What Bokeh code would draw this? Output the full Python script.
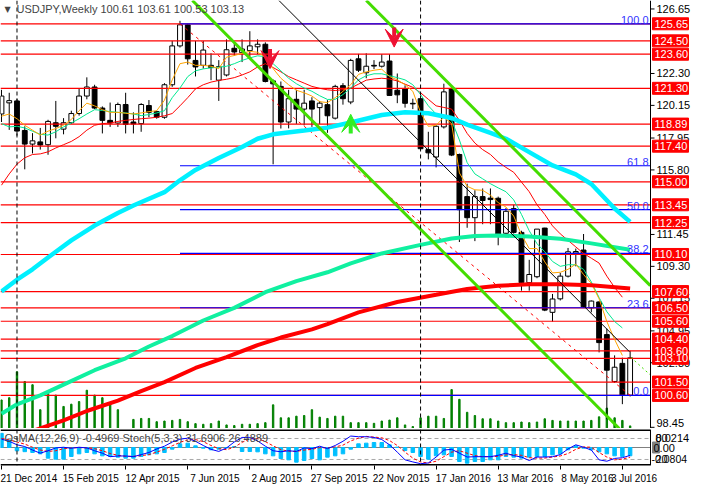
from bokeh.plotting import figure
from bokeh.models import Range1d, FixedTicker, ColumnDataSource, Label, Span, Arrow, VeeHead
from bokeh.core.properties import value
from bokeh.layouts import column
from bokeh.embed import file_html
from bokeh.resources import INLINE

FONT = "Liberation Sans"

# weekly bars, bar 0 = week of 21 Dec 2014
opens = [119.57, 120.32, 120.45, 118.46, 117.54, 117.69, 117.50, 118.98, 118.55, 118.98,
         119.60, 120.78, 121.39, 119.97, 119.14, 118.96, 120.21, 119.03, 118.92, 120.14,
         119.73, 119.35, 121.54, 124.16, 125.58, 123.18, 122.85, 122.85, 121.85, 122.20,
         124.00, 123.70, 123.84, 124.10, 124.27, 121.80, 121.43, 119.03, 120.56, 119.90,
         120.45, 120.00, 120.20, 119.29, 121.48, 120.38, 123.29, 122.35, 122.85, 122.79,
         123.14, 121.17, 121.26, 120.29, 120.60, 117.17, 116.67, 118.70, 121.26, 116.84,
         114.00, 112.58, 114.00, 113.90, 113.89, 111.53, 113.19, 111.59, 108.20, 108.60,
         111.88, 106.20, 107.11, 108.64, 110.20, 110.40, 106.50, 106.90, 104.70, 101.54,
         102.76, 100.61]
highs = [121.20, 121.00, 120.60, 118.74, 118.28, 118.63, 119.18, 120.45, 119.29, 119.79,
         121.26, 122.04, 121.54, 120.08, 120.34, 120.34, 121.00, 119.68, 120.30, 120.51,
         119.79, 121.65, 124.50, 125.85, 125.65, 124.49, 124.49, 123.66, 123.20, 124.60,
         124.40, 124.60, 125.15, 124.60, 124.40, 121.90, 121.76, 121.20, 121.20, 121.20,
         120.70, 120.45, 120.50, 121.54, 121.65, 123.29, 123.62, 123.66, 123.20, 123.60,
         123.60, 122.30, 121.50, 120.60, 120.80, 118.37, 118.81, 121.61, 121.43, 116.90,
         114.87, 114.43, 114.55, 114.55, 114.00, 113.23, 113.45, 111.70, 109.74, 111.81,
         111.90, 107.44, 108.86, 110.54, 110.50, 111.48, 107.00, 106.95, 105.10, 103.30,
         103.14, 103.61]
lows = [119.03, 118.50, 118.11, 115.84, 116.91, 117.17, 116.82, 117.93, 118.20, 118.90,
        119.46, 120.56, 119.90, 118.26, 118.70, 118.70, 118.26, 118.26, 118.37, 119.35,
        119.25, 119.25, 121.40, 124.05, 122.90, 122.10, 122.63, 121.85, 120.45, 122.10,
        123.50, 123.07, 123.40, 123.60, 121.70, 116.18, 118.59, 118.60, 118.90, 118.80,
        118.70, 118.90, 118.30, 119.20, 120.20, 120.23, 122.40, 121.98, 122.60, 122.70,
        120.80, 120.30, 120.00, 119.90, 117.20, 116.51, 115.97, 118.59, 116.73, 110.94,
        111.90, 111.00, 112.14, 112.14, 110.72, 111.26, 111.50, 107.66, 107.66, 108.50,
        106.28, 105.58, 107.00, 108.55, 109.30, 106.50, 106.20, 103.50, 99.00, 101.45,
        100.01, 100.53]
closes = [120.78, 120.47, 118.42, 117.54, 117.76, 117.48, 119.07, 118.74, 118.98, 119.60,
          120.78, 121.39, 119.97, 119.14, 118.96, 120.21, 118.87, 118.90, 120.21, 119.68,
          119.35, 121.54, 124.16, 125.58, 123.29, 122.74, 123.88, 122.70, 122.76, 123.90,
          123.75, 123.95, 124.16, 124.27, 121.76, 121.60, 119.03, 120.60, 119.90, 120.30,
          119.90, 120.30, 119.45, 121.43, 120.60, 123.18, 122.52, 122.79, 122.80, 123.07,
          120.82, 120.86, 120.29, 120.25, 117.23, 116.95, 118.74, 121.06, 116.80, 113.12,
          112.58, 114.00, 113.74, 113.80, 111.48, 113.01, 111.59, 108.20, 108.75, 111.81,
          106.35, 107.10, 108.64, 110.28, 110.30, 106.57, 106.96, 104.16, 102.30, 102.50,
          100.60, 103.13]
volumes = [88, 95, 175, 145, 135, 58, 108, 103, 68, 75,
           83, 118, 103, 95, 80, 58, 0, 28, 31, 31,
           21, 23, 25, 28, 21, 15, 13, 15, 23, 11,
           9, 13, 13, 15, 18, 73, 33, 33, 38, 40,
           58, 35, 31, 38, 38, 18, 18, 18, 16, 23,
           26, 33, 11, 6, 33, 38, 38, 31, 120, 90,
           50, 40, 30, 30, 23, 18, 18, 20, 18, 20,
           30, 25, 23, 23, 23, 23, 25, 36, 63, 33,
           25, 8]

# moving averages
ma_fast = [119.42, 119.57, 119.25, 118.81, 118.48, 118.15, 118.41, 118.59, 118.81, 119.20,
           119.79, 120.30, 120.12, 119.86, 119.68, 119.68, 119.62, 119.57, 119.64, 119.73,
           119.79, 120.50, 121.87, 122.96, 123.07, 122.85, 122.85, 122.79, 122.63, 123.40,
           123.51, 123.66, 123.79, 123.73, 123.40, 122.63, 121.98, 121.54, 121.17, 121.00,
           120.78, 120.40, 120.34, 120.67, 121.10, 121.54, 122.24, 122.41, 122.52, 122.59,
           122.09, 121.87, 121.54, 121.10, 119.68, 118.74, 118.81, 119.35, 118.92, 115.60,
           114.70, 114.46, 114.43, 114.10, 113.60, 113.30, 112.69, 111.43, 110.50, 110.50,
           109.60, 108.86, 108.90, 109.10, 109.45, 108.75, 108.15, 107.11, 105.58, 104.38,
           103.29]
ma_mid = [118.92, 118.70, 118.74, 118.63, 118.41, 118.20, 118.15, 118.37, 118.70, 118.96,
          119.25, 119.57, 119.86, 119.81, 119.73, 119.68, 119.64, 119.57, 119.46, 119.53,
          119.64, 119.79, 120.67, 121.32, 122.09, 122.48, 122.61, 122.68, 122.72, 122.79,
          122.96, 123.18, 123.35, 123.49, 123.44, 122.96, 122.48, 121.98, 121.61, 121.32,
          121.10, 120.80, 120.55, 120.56, 120.88, 121.32, 121.87, 122.15, 122.28, 122.28,
          122.15, 122.02, 121.87, 121.54, 120.88, 120.12, 119.57, 119.35, 119.14, 117.82,
          116.29, 115.53, 115.20, 114.87, 114.59, 114.33, 113.78, 112.80, 111.70, 110.83,
          110.28, 109.63, 109.30, 109.41, 109.40, 109.10, 108.25, 107.20, 106.24, 105.58,
          105.15]
ma_slow = [114.77, 115.53, 116.19, 116.62, 116.84, 116.88, 117.02, 117.28, 117.50, 117.72,
           118.04, 118.48, 118.81, 118.92, 118.96, 119.07, 119.14, 119.20, 119.25, 119.29,
           119.35, 119.45, 119.60, 120.12, 120.67, 121.26, 121.54, 121.72, 121.83, 121.91,
           122.02, 122.20, 122.41, 122.74, 122.96, 122.70, 122.41, 122.09, 121.87, 121.65,
           121.43, 121.30, 121.20, 121.15, 121.21, 121.32, 121.58, 121.85, 121.93, 121.98,
           121.93, 121.80, 121.58, 121.37, 121.00, 120.56, 120.12, 120.01, 119.90, 119.14,
           118.26, 117.61, 117.17, 116.84, 116.34, 115.97, 115.64, 114.98, 114.33, 113.45,
           112.80, 112.03, 111.49, 111.05, 110.61, 110.17, 109.85, 109.52, 108.64, 107.88,
           107.22]
ma50_i = [0, 2, 4, 6, 9, 12, 15, 17, 21, 23, 25, 28, 31, 33, 35, 39, 42, 45, 49, 52,
          55, 58, 60, 63, 65, 68, 71, 74, 76, 79, 81]
ma50 = [107.6, 108.4, 109.1, 109.9, 111.05, 112.05, 112.9, 113.4, 114.3, 115.1, 115.8,
        116.6, 117.35, 117.9, 118.2, 118.45, 118.65, 119.0, 119.5, 119.68, 119.62, 119.3,
        118.85, 118.3, 117.9, 117.0, 116.1, 115.5, 114.85, 113.2, 112.3]
ma100_i = [0, 2, 5, 8, 12, 16, 19, 22, 26, 30, 34, 38, 42, 45, 49, 54, 58, 61, 64, 68,
           72, 76, 81]
ma100 = [99.36, 100.0, 100.6, 101.33, 102.3, 103.1, 103.9, 104.6, 105.65, 106.5, 107.56,
         108.3, 108.9, 109.5, 110.17, 110.75, 111.18, 111.34, 111.38, 111.31, 111.16,
         110.85, 110.42]
ma200_i = [4, 8, 11, 15, 18, 21, 25, 29, 33, 36, 40, 42, 46, 51, 56, 60, 64, 68, 72, 76, 81]
ma200 = [98.2, 98.92, 99.55, 100.25, 100.89, 101.5, 102.45, 103.18, 103.99, 104.5, 105.05,
         105.41, 106.2, 106.9, 107.38, 107.77, 107.99, 108.1, 108.1, 108.03, 107.81]

# OsMA and stochastic
osma = [0.85, 0.45, -0.2, -0.25, -0.30, -0.38, -0.64, -0.70, -0.70, -0.54,
        -0.38, -0.30, -0.38, -0.50, -0.54, -0.58, -0.64, -0.64, -0.54, -0.44,
        -0.38, -0.30, -0.10, 0.22, 0.26, 0.10, -0.04, -0.14, -0.10, -0.02,
        0.06, -0.24, -0.24, -0.26, -0.38, -0.50, -0.66, -0.74, -0.88, -0.78,
        -0.66, -0.74, -0.58, -0.50, -0.38, -0.10, 0.22, 0.26, 0.30, 0.30,
        0.16, 0.02, -0.18, -0.30, -0.54, -0.70, -0.50, -0.44, -0.54, -0.84,
        -0.94, -0.84, -0.84, -0.74, -0.74, -0.54, -0.58, -0.64, -0.58, -0.54,
        -0.54, -0.44, -0.38, -0.14, 0.10, -0.04, -0.14, -0.26, -0.38, -0.50,
        -0.54, -0.4969]
stoch_main = [78, 72, 62, 57, 47, 38, 45, 53, 55, 52,
              55, 53, 45, 38, 28, 30, 30, 28, 34, 40,
              50, 58, 70, 78, 81, 72, 60, 49, 43, 53,
              70, 83, 83, 73, 58, 45, 42, 45, 43, 53,
              51, 58, 51, 60, 72, 87, 85, 85, 83, 77,
              62, 41, 19, 13, 8, 10, 27, 47, 49, 38,
              27, 28, 28, 28, 32, 38, 31, 27, 17, 27,
              27, 28, 34, 50, 62, 55, 47, 19, 15, 23,
              25, 31.6906]
stoch_sig = [80, 76, 70, 64, 55, 47, 43, 45, 51, 53,
             54, 53, 51, 45, 37, 32, 29, 29, 31, 34,
             41, 49, 59, 69, 76, 77, 71, 60, 51, 48,
             55, 69, 79, 80, 71, 59, 48, 44, 43, 47,
             49, 54, 53, 56, 61, 73, 81, 86, 84, 82,
             74, 60, 41, 24, 13, 10, 15, 28, 41, 45,
             38, 31, 28, 28, 29, 33, 34, 32, 25, 24,
             24, 27, 30, 37, 49, 56, 55, 40, 27, 19,
             21, 26.4889]
osma_labels = ["0.0214", "0.00", "-0.0804"]
stoch_levels = [80, 20]

# horizontal levels, fibonacci, drawn objects
levels = [125.65, 124.50, 123.60, 121.30, 118.89, 117.40, 115.00, 113.45, 112.25, 110.10,
          107.60, 106.50, 105.60, 104.40, 103.60, 103.10, 101.50, 100.60]
price_ticks = [126.65, 122.30, 120.15, 117.95, 115.80, 111.45, 109.30, 107.15, 104.95,
               102.80]
bottom_tick = 98.45
fib_pct = [100.0, 61.8, 50.0, 38.2, 23.6, 0.0]
fib_price = [125.65, 116.08, 113.13, 110.17, 106.51, 100.60]
fib_start = 23
fib_diag_i = [23, 81]
fib_diag_p = [125.65, 100.60]
chan_a_i = [24.6, 79.6]
chan_a_p = [127.22, 98.37]
chan_b_i = [47.0, 83.6]
chan_b_p = [127.22, 108.0]
trend_i = [35.75, 80.9]
trend_p = [127.22, 103.55]
ext_i = [81.1, 83.6]
ext_p = [103.16, 101.98]
arrow_i = [34.6, 50.6, 45.0]
arrow_from = [123.95, 125.40, 118.25]
arrow_to = [122.63, 124.08, 119.55]
arrow_col = ["#ee1133", "#ee1133", "#33ee22"]
separators = [2, 54]
tick_idx = [0, 8, 16, 24, 32, 40, 48, 56, 64, 72, 80]
tick_labels = ["21 Dec 2014", "15 Feb 2015", "12 Apr 2015", "7 Jun 2015", "2 Aug 2015",
               "27 Sep 2015", "22 Nov 2015", "17 Jan 2016", "13 Mar 2016", "8 May 2016",
               "3 Jul 2016"]

# geometry: chart area 650px wide, price scale strip 41px to its right
x_start, x_end = -0.125, 83.625
PPU = 650 / (x_end - x_start)          # pixels per bar


def px(n):
    return n / PPU


x_full = x_end + px(41)
y_lo, y_hi = 98.37, 127.22
bars = list(range(len(opens)))
TXT = dict(text_font=value(FONT), text_font_size=value("11px"))

main = figure(frame_width=691, frame_height=428, x_range=Range1d(x_start, x_full),
              y_range=Range1d(y_lo, y_hi), output_backend="svg", toolbar_location=None,
              x_axis_location=None, y_axis_location=None,
              min_border_left=0, min_border_top=0, min_border_bottom=0, min_border_right=0)
main.outline_line_color = None
main.grid.visible = False
main.extra_y_ranges = {"vol": Range1d(0, 1320)}

# volumes
main.vbar(x=bars, top=volumes, bottom=0, width=0.18, color="#008000", y_range_name="vol")

# candles
src = ColumnDataSource(dict(
    i=bars, h=highs, l=lows,
    top=[max(o, c) for o, c in zip(opens, closes)],
    bottom=[min(o, c) for o, c in zip(opens, closes)],
    fill=["white" if c >= o else "black" for o, c in zip(opens, closes)],
))
main.segment("i", "h", "i", "l", source=src, color="black", line_width=1)
main.vbar(x="i", top="top", bottom="bottom", width=0.62, fill_color="fill",
          line_color="black", line_width=1, source=src)

# red horizontal levels and fibonacci lines
main.segment(x0=[x_start] * len(levels), y0=levels, x1=[x_end] * len(levels), y1=levels,
             color="#ff0000", line_width=1.2)
main.segment(x0=[fib_start] * len(fib_price), y0=fib_price, x1=[x_end] * len(fib_price),
             y1=fib_price, color="#0000ff", line_width=1.2)
main.line(fib_diag_i, fib_diag_p, color="#ff0000", line_width=1, line_dash="3 4")

# moving averages
thin_i = bars[:len(ma_fast)]
main.line(thin_i, ma_slow, color="#ff0000", line_width=1)
main.line(thin_i, ma_mid, color="#00e890", line_width=1)
main.line(thin_i, ma_fast, color="#ffa500", line_width=1)
main.line(ma50_i, ma50, color="#00f0ff", line_width=4.5)
main.line(ma100_i, ma100, color="#10f0a0", line_width=4)
main.line(ma200_i, ma200, color="#ff0000", line_width=4)

# channel and trend lines
main.line(chan_a_i, chan_a_p, color="#44dd00", line_width=3)
main.line(chan_b_i, chan_b_p, color="#44dd00", line_width=3)
main.line(trend_i, trend_p, color="black", line_width=1)
main.line(ext_i, ext_p, color="#44dd00", line_width=1, line_dash="2 3")

for xi, y0, y1, col in zip(arrow_i, arrow_from, arrow_to, arrow_col):
    main.add_layout(Arrow(end=VeeHead(size=18, fill_color=col, line_color=col),
                          x_start=xi, y_start=y0, x_end=xi, y_end=y1,
                          line_color=col, line_width=4))

for s in separators:
    main.add_layout(Span(location=s, dimension="height", line_color="black",
                         line_dash="4 3", line_width=1))

for pct, fp in zip(fib_pct, fib_price):
    main.add_layout(Label(x=x_end, y=fp, x_offset=-2, text=f"{pct:.1f}",
                          text_color="#3333ff", text_font=FONT, text_font_size="11px",
                          text_align="right", text_baseline="bottom"))

# price scale on the right
main.add_layout(Span(location=x_end, dimension="height", line_color="black", line_width=1))
all_ticks = price_ticks + [bottom_tick]
main.segment(x0=[x_end] * len(all_ticks), y0=all_ticks, x1=[x_end + px(4)] * len(all_ticks),
             y1=all_ticks, color="black", line_width=1)
main.text(x=[x_end] * len(price_ticks), y=price_ticks, text=[f"{v:.2f}" for v in price_ticks],
          x_offset=6, text_baseline="middle", text_color="black", **TXT)
main.text(x=[x_end], y=[bottom_tick], text=[f"{bottom_tick:.2f}"], x_offset=6,
          text_baseline="bottom", text_color="black", **TXT)
main.rect(x=[x_end + px(20)] * len(levels), y=levels, width=36, height=12,
          width_units="screen", height_units="screen", color="#ff0000")
main.text(x=[x_end] * len(levels), y=levels, text=[f"{v:.2f}" for v in levels],
          x_offset=4, text_baseline="middle", text_color="white", **TXT)

main.add_layout(Label(x=x_start, y=y_hi, x_offset=4, y_offset=-4, text="\u25bc",
                      text_font="DejaVu Sans", text_font_size="8px", text_baseline="top"))
header = "USDJPY,Weekly  %.2f %.2f %.2f %.2f" % (opens[-1], highs[-1], lows[-1], closes[-1])
main.add_layout(Label(x=x_start, y=y_hi, x_offset=16, y_offset=-2, text=header,
                      text_font=FONT, text_font_size="11px", text_baseline="top"))

# indicator panel
s_lo, s_hi = 2.8, 105.7
ind = figure(frame_width=691, frame_height=36, x_range=main.x_range,
             y_range=Range1d(s_lo, s_hi), output_backend="svg", toolbar_location=None,
             y_axis_location=None, min_border_left=0, min_border_top=1,
             min_border_bottom=0, min_border_right=0)
ind.outline_line_color = None
ind.grid.visible = False
ind.extra_y_ranges = {"osma": Range1d(-1.08, 1.08)}

ind.segment(x0=[x_start] * 2, y0=stoch_levels, x1=[x_end] * 2, y1=stoch_levels,
            color="#a8a8a8", line_dash="4 3", line_width=1)
ind.segment(x0=[x_start], y0=[0], x1=[x_end], y1=[0], color="#808080", line_width=1.2,
            y_range_name="osma")
ind.vbar(x=bars, top=osma, bottom=0, width=0.45, color="#00bfff", y_range_name="osma")
ind.line(bars, stoch_sig, color="#ff0000", line_width=1, line_dash="3 2")
ind.line(bars, stoch_main, color="#0000ff", line_width=1)
for s in separators:
    ind.add_layout(Span(location=s, dimension="height", line_color="black",
                        line_dash="4 3", line_width=1))

# panel border: top, bottom, right
ind.segment(x0=[x_start, x_start], y0=[s_hi, s_lo], x1=[x_end, x_end], y1=[s_hi, s_lo],
            color="black", line_width=3)
ind.add_layout(Span(location=x_end, dimension="height", line_color="black", line_width=1))

ind.add_layout(Label(x=x_start, y=s_hi, x_offset=4, y_offset=-2,
                     text="OsMA(12,26,9) %.4f  Stoch(5,3,3) %.4f %.4f"
                     % (osma[-1], stoch_main[-1], stoch_sig[-1]),
                     text_font=FONT, text_font_size="11px", text_baseline="top"))

# scale labels of the indicator window (the stoch levels are drawn over the OsMA extremes)
ind.rect(x=[x_end + px(5.5)], y=[0], width=7, height=11, width_units="screen",
         height_units="screen", color="#808080", y_range_name="osma")
ind.text(x=[x_end], y=[0], text=[osma_labels[1]], x_offset=3, text_baseline="middle",
         text_color="black", y_range_name="osma", **TXT)
ind.text(x=[x_end], y=[stoch_levels[0]], text=[osma_labels[0]], x_offset=5,
         text_baseline="middle", text_color="black", **TXT)
ind.text(x=[x_end], y=[stoch_levels[1]], text=[osma_labels[2]], x_offset=1,
         text_baseline="middle", text_color="black",
         text_font=value(FONT), text_font_size=value("10.5px"))
ind.text(x=[x_end] * 2, y=stoch_levels, text=[str(v) for v in stoch_levels], x_offset=5,
         text_baseline="middle", text_color="black", **TXT)

label_pos = [t + 3.5 for t in tick_idx]
label_pos[-1] = 81.5
xax = ind.xaxis[0]
xax.ticker = FixedTicker(ticks=label_pos, minor_ticks=tick_idx)
xax.major_label_overrides = {p: t for p, t in zip(label_pos, tick_labels)}
xax.major_tick_out = 0
xax.major_tick_in = 0
xax.minor_tick_out = 4
xax.minor_tick_in = 0
xax.minor_tick_line_color = "black"
xax.axis_line_color = None
xax.major_label_standoff = 3
xax.major_label_text_font = FONT
xax.major_label_text_font_size = "10px"
xax.major_label_text_color = "black"

layout = column(main, ind, spacing=0)
open("out.html", "w").write(file_html(layout, INLINE, "USDJPY Weekly"))
